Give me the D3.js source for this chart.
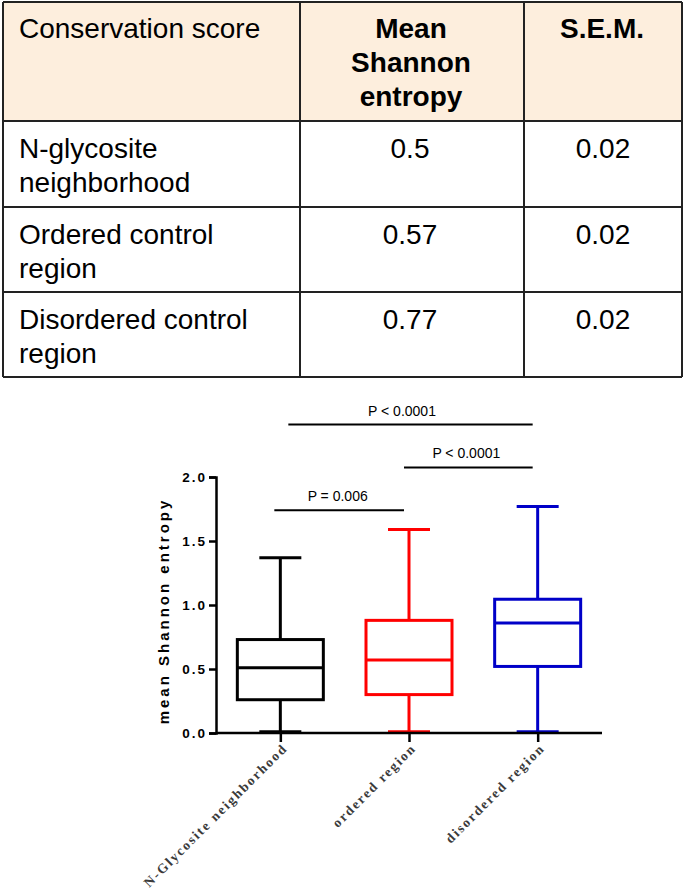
<!DOCTYPE html>
<html>
<head>
<meta charset="utf-8">
<script src="https://cdn.jsdelivr.net/npm/d3@7"></script>
<style>
  html, body { margin: 0; padding: 0; background: #fff; }
  svg { display: block; }
</style>
</head>
<body>
<svg id="chart" width="685" height="896"></svg>
<script>
// ---------- Table data ----------
const tableHeaders = [["Conservation score"], ["Mean", "Shannon", "entropy"], ["S.E.M."]];
const tableRowLabels = [["N-glycosite", "neighborhood"], ["Ordered control", "region"], ["Disordered control", "region"]];
const tableMeans = ["0.5", "0.57", "0.77"];
const tableSEM = ["0.02", "0.02", "0.02"];

// ---------- Box plot data ----------
const categories = ["N-Glycosite neighborhood", "ordered region", "disordered region"];
const boxMin    = [0.01, 0.01, 0.01];
const boxQ1     = [0.26, 0.30, 0.52];
const boxMedian = [0.51, 0.57, 0.86];
const boxQ3     = [0.73, 0.88, 1.045];
const boxMax    = [1.37, 1.59, 1.77];
const boxColors = ["#000000", "#ff0000", "#0000c8"];
const yTicks = [0, 0.5, 1.0, 1.5, 2.0];
const comparisons = [
  { a: 0, b: 1, level: 1.74, label: "P = 0.006" },
  { a: 1, b: 2, level: 2.075, label: "P < 0.0001" },
  { a: 0, b: 2, level: 2.41, label: "P < 0.0001" }
];

const svg = d3.select("#chart");

// ---------- Table ----------
const colX = [3, 300, 524, 682];
const rowY = [2, 121, 207, 292, 377];
const tbl = svg.append("g");
tbl.append("rect").attr("x", colX[0]).attr("y", rowY[0])
  .attr("width", colX[3] - colX[0]).attr("height", rowY[1] - rowY[0])
  .attr("fill", "#fdeedd");
const lineStyle = s => s.attr("stroke", "#222").attr("stroke-width", 2);
rowY.forEach(y => tbl.append("line").attr("x1", colX[0]).attr("x2", colX[3]).attr("y1", y).attr("y2", y).call(lineStyle));
colX.forEach(x => tbl.append("line").attr("x1", x).attr("x2", x).attr("y1", rowY[0]).attr("y2", rowY[4]).call(lineStyle));

const tfont = "'Liberation Sans', Arial, Helvetica, sans-serif";
const lineH = 34;
const tsize = 28;
// headers
tableHeaders.forEach((lines, ci) => {
  const t = tbl.append("text")
    .attr("font-family", tfont).attr("font-size", tsize)
    .attr("font-weight", ci === 0 ? "normal" : "bold")
    .attr("fill", "#000")
    .attr("text-anchor", ci === 0 ? "start" : "middle");
  const x = ci === 0 ? 19 : (colX[ci] + colX[ci + 1]) / 2 - 1;
  lines.forEach((s, i) => t.append("tspan").attr("x", x).attr("y", 38 + i * lineH).text(s));
});
// body rows
tableRowLabels.forEach((lines, ri) => {
  const base = rowY[ri + 1] + 36.5;
  const t = tbl.append("text").attr("font-family", tfont).attr("font-size", tsize).attr("fill", "#000");
  lines.forEach((s, i) => t.append("tspan").attr("x", 19).attr("y", base + i * lineH).text(s));
  tbl.append("text").attr("font-family", tfont).attr("font-size", tsize).attr("text-anchor", "middle")
    .attr("x", (colX[1] + colX[2]) / 2 - 2).attr("y", base).text(tableMeans[ri]);
  tbl.append("text").attr("font-family", tfont).attr("font-size", tsize).attr("text-anchor", "middle")
    .attr("x", (colX[2] + colX[3]) / 2).attr("y", base).text(tableSEM[ri]);
});

// ---------- Box plot ----------
const plotLeft = 216, plotRight = 602, plotTop = 477, plotBottom = 733;
const x = d3.scalePoint().domain(categories).range([plotLeft, plotRight]).padding(0.5);
const y = d3.scaleLinear().domain([0, 2]).range([plotBottom, plotTop]);
const boxW = 86, capW = 42, sw = 3;

const g = svg.append("g");

categories.forEach((c, i) => {
  const cx = x(c), col = boxColors[i];
  const bg = g.append("g").attr("stroke", col).attr("stroke-width", sw).attr("fill", "none");
  bg.append("line").attr("x1", cx).attr("x2", cx).attr("y1", y(boxMax[i])).attr("y2", y(boxQ3[i]));
  bg.append("line").attr("x1", cx).attr("x2", cx).attr("y1", y(boxQ1[i])).attr("y2", y(boxMin[i]));
  bg.append("line").attr("x1", cx - capW / 2).attr("x2", cx + capW / 2).attr("y1", y(boxMax[i])).attr("y2", y(boxMax[i]));
  bg.append("line").attr("x1", cx - capW / 2).attr("x2", cx + capW / 2).attr("y1", y(boxMin[i])).attr("y2", y(boxMin[i]));
  bg.append("rect").attr("x", cx - boxW / 2).attr("width", boxW)
    .attr("y", y(boxQ3[i])).attr("height", y(boxQ1[i]) - y(boxQ3[i]));
  bg.append("line").attr("x1", cx - boxW / 2).attr("x2", cx + boxW / 2).attr("y1", y(boxMedian[i])).attr("y2", y(boxMedian[i]));
});

// y axis
const yAxis = g.append("g").attr("transform", `translate(${plotLeft},0)`)
  .call(d3.axisLeft(y).tickValues(yTicks).tickFormat(d3.format(".1f")).tickSize(7).tickPadding(4));
yAxis.select(".domain").attr("stroke", "#000").attr("stroke-width", 2.5);
yAxis.selectAll(".tick line").attr("stroke", "#000").attr("stroke-width", 2.5);
yAxis.selectAll(".tick text")
  .attr("font-family", tfont).attr("font-weight", "bold").attr("font-size", 13.5)
  .attr("letter-spacing", "2px").attr("fill", "#000").attr("dx", "2px");

// x axis
const xAxis = g.append("g").attr("transform", `translate(0,${plotBottom})`)
  .call(d3.axisBottom(x).tickSize(9).tickSizeOuter(0).tickFormat(""));
xAxis.select(".domain").attr("stroke", "#000").attr("stroke-width", 2.5)
  .attr("d", `M${plotLeft},0H${plotRight}`);
xAxis.selectAll(".tick line").attr("stroke", "#000").attr("stroke-width", 2.5);

// x labels rotated
categories.forEach((c, i) => {
  g.append("text")
    .attr("transform", `translate(${x(c) + 8},${plotBottom + 16}) rotate(-45)`)
    .attr("text-anchor", "end")
    .attr("font-family", "'Liberation Serif', 'Times New Roman', serif")
    .attr("font-size", 13.5).attr("font-weight", "bold").attr("letter-spacing", "1.9px").attr("fill", "#3a3a3a")
    .text(c);
});

// y label
g.append("text")
  .attr("transform", `translate(169,611) rotate(-90)`)
  .attr("text-anchor", "middle")
  .attr("font-family", tfont).attr("font-weight", "bold").attr("font-size", 15)
  .attr("letter-spacing", "3px").attr("fill", "#000")
  .text("mean Shannon entropy");

// significance bars
const startOff = [-6, -5, 8];
comparisons.forEach((cmp, i) => {
  const xa = x(categories[cmp.a]), xb = x(categories[cmp.b]);
  const yy = y(cmp.level);
  g.append("line").attr("x1", xa + startOff[i]).attr("x2", xb - 5)
    .attr("y1", yy).attr("y2", yy).attr("stroke", "#000").attr("stroke-width", 2);
  g.append("text").attr("x", (xa + xb) / 2 - 7).attr("y", yy - 9)
    .attr("text-anchor", "middle").attr("font-family", tfont).attr("font-size", 14)
    .attr("fill", "#000").text(cmp.label);
});
</script>
</body>
</html>
